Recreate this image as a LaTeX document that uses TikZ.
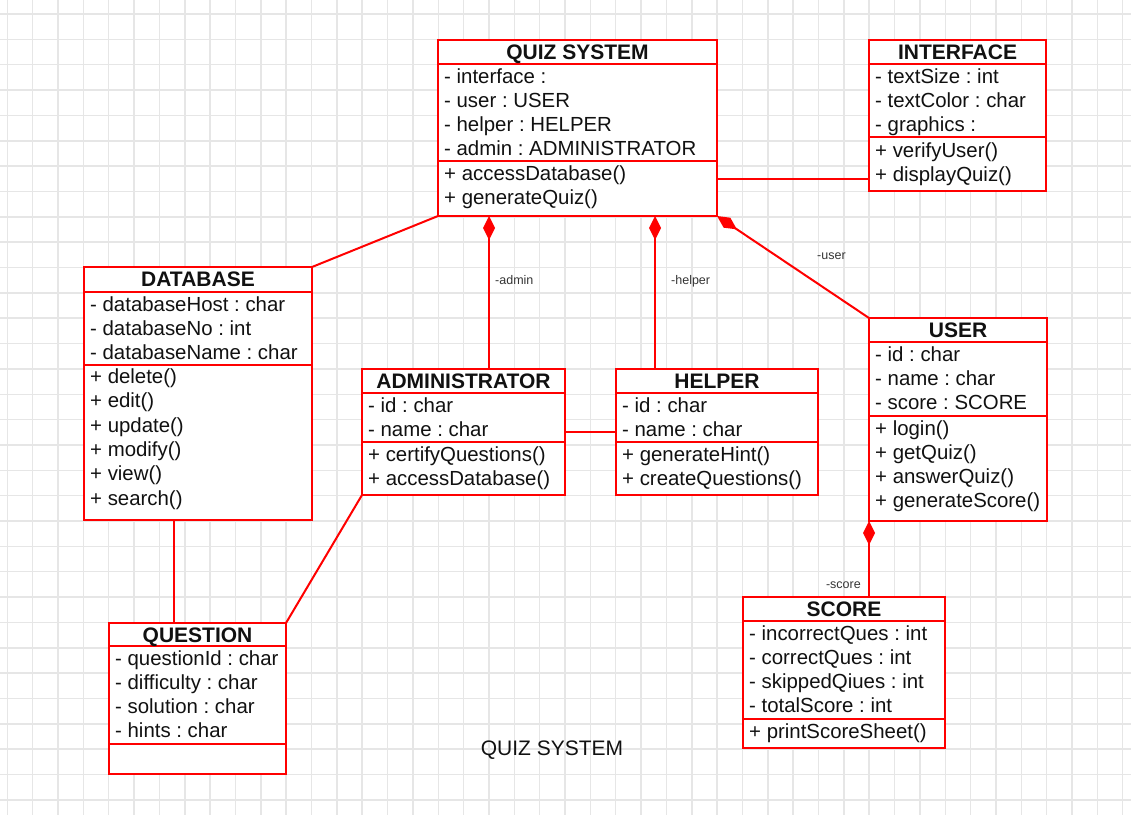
\documentclass[tikz,border=0pt]{standalone}
\usepackage{fontspec}
\setmainfont{Liberation Sans}
\usetikzlibrary{arrows.meta}
\frenchspacing

\definecolor{umlred}{RGB}{255,0,0}
\definecolor{gridgray}{RGB}{230,230,230}
\definecolor{ink}{RGB}{17,17,17}

\tikzset{
  gridline/.style={draw=gridgray, line width=1.5pt},
  classbox/.style={draw=umlred, line width=2pt, fill=white, inner sep=0pt, outer sep=0pt, anchor=north west},
  divider/.style={draw=umlred, line width=2pt},
  classtitle/.style={anchor=base, font=\fontsize{21}{24}\selectfont\bfseries, text=ink, inner sep=0pt},
  member/.style={anchor=base west, font=\fontsize{20.4}{24}\selectfont, text=ink, inner sep=0pt},
  link/.style={draw=umlred, line width=2pt},
  comp/.style={link, -{Diamond[length=24pt, width=12pt, fill=umlred]}},
  rolelabel/.style={font=\fontsize{12.5}{14}\selectfont, text=ink!85, inner sep=0pt},
  caption/.style={anchor=base, font=\fontsize{21}{24}\selectfont, text=ink, inner sep=0pt},
}

% class frame: id, left, top, right, bottom, header bottom, separator, title
\newcommand\umlclass[8]{%
  \node[classbox, minimum width={(#4-#2)*1pt}, minimum height={(#5-#3)*1pt}] (#1) at (#2,#3) {};
  \draw[divider] (#2,#6) -- (#4,#6);
  \draw[divider] (#2,#7) -- (#4,#7);
  \node[classtitle] (#1-title) at ({(#2+#4)/2},#3+19) {#8};
}
% compartment rows: id, row prefix, left, first baseline, list
\newcommand\umlrows[5]{%
  \foreach \t [count=\i from 0] in {#5}
    \node[member] (#1-#2\i) at (#3+6,#4+24.3*\i) {\t};
}

\begin{document}
\begin{tikzpicture}[x=1pt, y=-1pt]
\useasboundingbox (0,0) rectangle (1131,815);
\fill[white] (0,0) rectangle (1131,815);

% background grid
\foreach \k in {0,...,44}
  \draw[gridline] ({7.3+25.35*\k},0) -- ({7.3+25.35*\k},815);
\foreach \k in {0,...,31}
  \draw[gridline] (0,{14+25.35*\k}) -- (1131,{14+25.35*\k});

% classes
\umlclass{quiz}{438}{40}{717}{216}{64}{161}{QUIZ SYSTEM}
\umlrows{quiz}{a}{438}{83}{- interface :, - user : USER, - helper : HELPER, - admin : ADMINISTRATOR}
\umlrows{quiz}{m}{438}{180}{+ accessDatabase(), + generateQuiz()}

\umlclass{iface}{869}{40}{1046}{191}{64}{137}{INTERFACE}
\umlrows{iface}{a}{869}{83}{- textSize : int, - textColor : char, - graphics :}
\umlrows{iface}{m}{869}{157}{+ verifyUser(), + displayQuiz()}

\umlclass{db}{84}{267}{312}{520}{292}{365}{DATABASE}
\umlrows{db}{a}{84}{311}{- databaseHost : char, - databaseNo : int, - databaseName : char}
\umlrows{db}{m}{84}{383.5}{+ delete(), + edit(), + update(), + modify(), + view(), + search()}

\umlclass{admin}{362}{369}{565}{495}{393}{442}{ADMINISTRATOR}
\umlrows{admin}{a}{362}{412}{- id : char, - name : char}
\umlrows{admin}{m}{362}{461}{+ certifyQuestions(), + accessDatabase()}

\umlclass{helper}{616}{369}{818}{495}{393}{442}{HELPER}
\umlrows{helper}{a}{616}{412}{- id : char, - name : char}
\umlrows{helper}{m}{616}{461}{+ generateHint(), + createQuestions()}

\umlclass{user}{869}{318}{1047}{521}{342}{416}{USER}
\umlrows{user}{a}{869}{361}{- id : char, - name : char, - score : SCORE}
\umlrows{user}{m}{869}{435}{+ login(), + getQuiz(), + answerQuiz(), + generateScore()}

\umlclass{question}{109}{623}{286}{774}{646}{744}{QUESTION}
\umlrows{question}{a}{109}{665}{- questionId : char, - difficulty : char, - solution : char, - hints : char}

\umlclass{score}{743}{597}{945}{748}{621}{719}{SCORE}
\umlrows{score}{a}{743}{640}{- incorrectQues : int, - correctQues : int, - skippedQiues : int, - totalScore : int}
\umlrows{score}{m}{743}{738}{+ printScoreSheet()}

% attachment points off the box centres
\coordinate (adminJoin) at ([xshift=127pt]admin.north west);
\coordinate (helperJoin) at ([xshift=39pt]helper.north west);
\coordinate (ifaceJoin) at ([yshift=-139pt]iface.north west);
\coordinate (dbJoin) at ([xshift=90pt]db.south west);

% plain associations
\draw[link] (quiz.south west) -- (db.north east);
\draw[link] (ifaceJoin) -- (ifaceJoin -| quiz.east);
\draw[link] (admin.east) -- (helper.west);
\draw[link] (dbJoin) -- (dbJoin |- question.north);
\draw[link] (admin.south west) -- (question.north east);

% compositions
\draw[comp] (adminJoin) -- (adminJoin |- quiz.south);
\draw[comp] (helperJoin) -- (helperJoin |- quiz.south);
\draw[comp] (user.north west) -- (quiz.south east);
\draw[comp] (score.north -| user.south west) -- (user.south west);

% role names
\node[rolelabel, anchor=base west] (roleAdmin) at (495,284) {-admin};
\node[rolelabel, anchor=base west] (roleHelper) at (671,284) {-helper};
\node[rolelabel, anchor=base west] (roleUser) at (817,259) {-user};
\node[rolelabel, anchor=base east] (roleScore) at (861,588) {-score};

% diagram caption
\node[caption] (caption) at (552,755) {QUIZ SYSTEM};
\end{tikzpicture}
\end{document}
